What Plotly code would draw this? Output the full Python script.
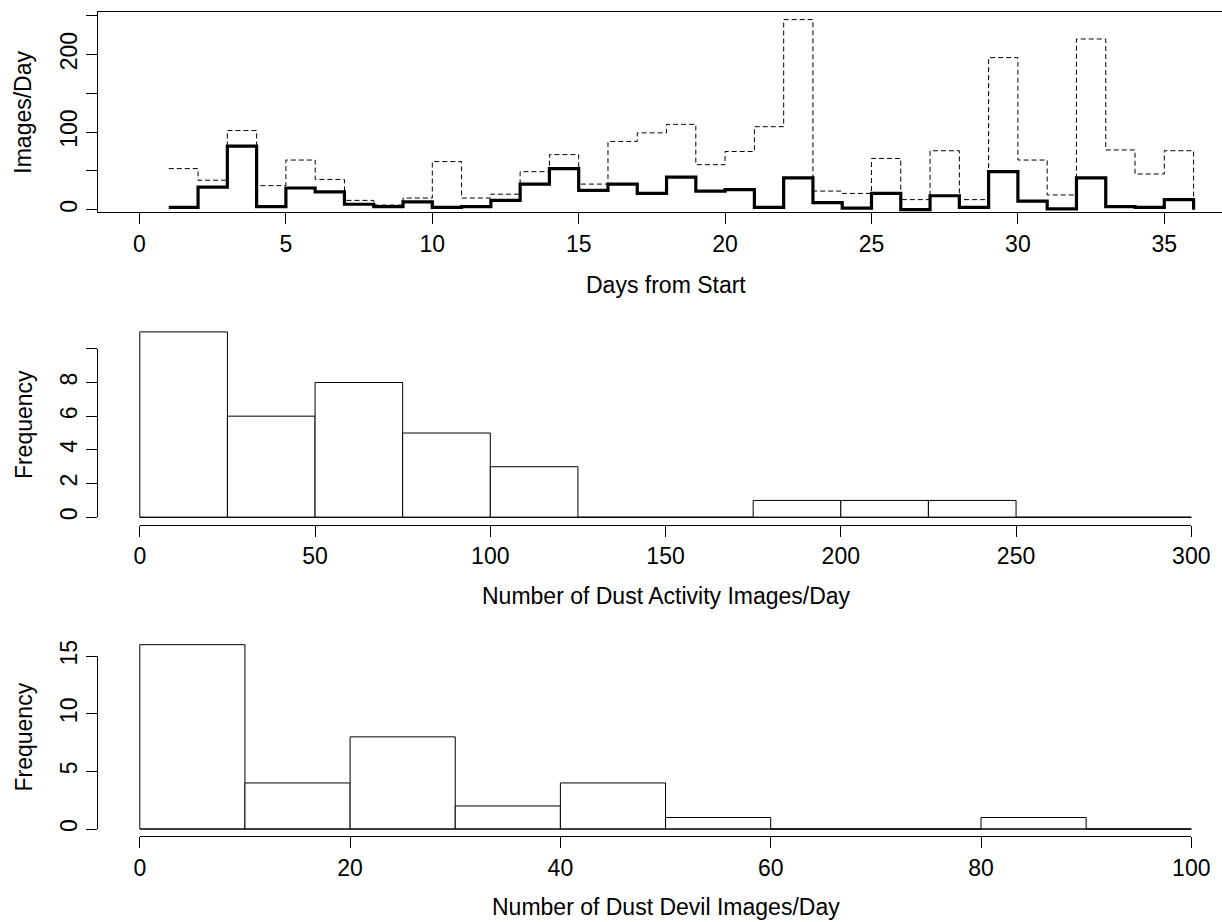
import plotly.graph_objects as go

# ---------------- data ----------------
days = list(range(1, 37))
dust_activity = [53, 38, 102, 31, 64, 39, 12, 6, 15, 62, 15, 20, 49, 71, 33, 88, 99, 110,
                 58, 75, 107, 245, 24, 21, 66, 13, 76, 13, 196, 64, 19, 220, 77, 46, 76, 13]
dust_devils = [3, 29, 82, 4, 28, 23, 7, 4, 10, 3, 4, 12, 33, 53, 25, 33, 21, 42,
               24, 26, 3, 41, 9, 2, 21, 0, 18, 3, 49, 11, 1, 41, 4, 3, 13, 0]

activity_breaks = list(range(0, 301, 25))
devil_breaks = list(range(0, 101, 10))

days_ticks = [0, 5, 10, 15, 20, 25, 30, 35]
images_ticks = [0, 50, 100, 150, 200, 250]
images_ticklabels = ["0", "", "100", "", "200", ""]
activity_ticks = [0, 50, 100, 150, 200, 250, 300]
freq1_ticks = [0, 2, 4, 6, 8, 10]
freq1_ticklabels = ["0", "2", "4", "6", "8", ""]
devil_ticks = [0, 20, 40, 60, 80, 100]
freq2_ticks = [0, 5, 10, 15]


def r_hist(values, breaks):
    """R-style histogram counts: right-closed bins, lowest value included."""
    counts = [0] * (len(breaks) - 1)
    for v in values:
        for i in range(len(breaks) - 1):
            lo, hi = breaks[i], breaks[i + 1]
            if lo < v <= hi or (i == 0 and v == lo):
                counts[i] += 1
                break
    return counts


act_counts = r_hist(dust_activity, activity_breaks)
dev_counts = r_hist(dust_devils, devil_breaks)

# ---------------- geometry (pixels) ----------------
W, H = 1222, 922
FONT = "Liberation Sans, Arial, sans-serif"
FS = 23


def fx(px):
    return px / W


def fy(py):
    return 1 - py / H


def sub(dom, rng, v0, v1):
    d0, d1 = dom
    r0, r1 = rng
    return [d0 + (v0 - r0) / (r1 - r0) * (d1 - d0),
            d0 + (v1 - r0) / (r1 - r0) * (d1 - d0)]


PL, PR = 97.7, 1222
x_dom = [fx(PL), fx(PR)]

# top panel
top_xr = [(PL - 139.5) / 29.28, (PR - 139.5) / 29.28]
top_yr = [-2.96, 254.4]
top_ydom = [fy(212), fy(12.3)]
# middle panel
mid_xr = [(PL - 139.8) / 3.505, (PR - 139.8) / 3.505]
mid_yr = [-0.44, 11.44]
mid_ydom = [fy(524.7), fy(324.5)]
# bottom panel
bot_xr = [(PL - 139.8) / 10.515, (PR - 139.8) / 10.515]
bot_yr = [-0.64, 16.64]
bot_ydom = [fy(836.4), fy(637.3)]

fig = go.Figure()

# top panel step lines
fig.add_trace(go.Scatter(x=days, y=dust_activity, mode="lines",
                         line=dict(shape="hv", color="black", width=1, dash="5px,3px"),
                         xaxis="x", yaxis="y", showlegend=False, hoverinfo="skip"))
fig.add_trace(go.Scatter(x=days, y=dust_devils, mode="lines",
                         line=dict(shape="hv", color="black", width=3.2),
                         xaxis="x", yaxis="y", showlegend=False, hoverinfo="skip"))


def add_hist(counts, breaks, xa, ya):
    centers = [(breaks[i] + breaks[i + 1]) / 2 for i in range(len(counts))]
    widths = [breaks[i + 1] - breaks[i] for i in range(len(counts))]
    fig.add_trace(go.Bar(x=centers, y=counts, width=widths,
                         marker=dict(color="white", line=dict(color="black", width=1)),
                         xaxis=xa, yaxis=ya, showlegend=False, hoverinfo="skip"))
    fig.add_trace(go.Scatter(x=[breaks[0], breaks[-1]], y=[0, 0], mode="lines",
                             line=dict(color="black", width=1),
                             xaxis=xa, yaxis=ya, showlegend=False, hoverinfo="skip"))


add_hist(act_counts, activity_breaks, "x2", "y2")
add_hist(dev_counts, devil_breaks, "x3", "y3")

# empty traces to register the tick-axis subplots
for xa, ya in [("x4", "y"), ("x", "y4"), ("x5", "y2"), ("x2", "y5"), ("x6", "y3"), ("x3", "y6")]:
    fig.add_trace(go.Scatter(x=[], y=[], xaxis=xa, yaxis=ya, showlegend=False, hoverinfo="skip"))

hidden = dict(showgrid=False, zeroline=False, showticklabels=False, ticks="",
              fixedrange=True, automargin=False)
tickstyle = dict(showgrid=False, zeroline=False, ticks="outside", ticklen=11, tickwidth=1,
                 tickcolor="black", linecolor="black", linewidth=1,
                 tickfont=dict(family=FONT, size=FS, color="black"), tickmode="array",
                 fixedrange=True, automargin=False)

fig.update_layout(
    width=W, height=H, autosize=False,
    margin=dict(l=0, r=0, t=0, b=0, pad=0, autoexpand=False),
    paper_bgcolor="white", plot_bgcolor="rgba(0,0,0,0)",
    showlegend=False,
    # data axes
    xaxis=dict(domain=x_dom, range=top_xr, anchor="y", showline=True, mirror=True,
               linecolor="black", linewidth=1, **hidden),
    yaxis=dict(domain=top_ydom, range=top_yr, anchor="x", showline=True,
               linecolor="black", linewidth=1, **hidden),
    xaxis2=dict(domain=x_dom, range=mid_xr, anchor="y2", showline=False, **hidden),
    yaxis2=dict(domain=mid_ydom, range=mid_yr, anchor="x2", showline=False, **hidden),
    xaxis3=dict(domain=x_dom, range=bot_xr, anchor="y3", showline=False, **hidden),
    yaxis3=dict(domain=bot_ydom, range=bot_yr, anchor="x3", showline=False, **hidden),
    # tick axes
    xaxis4=dict(domain=sub(x_dom, top_xr, days_ticks[0], days_ticks[-1]),
                range=[days_ticks[0], days_ticks[-1]], anchor="y", showline=False,
                tickvals=days_ticks, **tickstyle),
    yaxis4=dict(domain=sub(top_ydom, top_yr, images_ticks[0], images_ticks[-1]),
                range=[images_ticks[0], images_ticks[-1]], anchor="x", showline=False,
                tickvals=images_ticks, ticktext=images_ticklabels, tickangle=-90, **tickstyle),
    xaxis5=dict(domain=sub(x_dom, mid_xr, activity_ticks[0], activity_ticks[-1]),
                range=[activity_ticks[0], activity_ticks[-1]], anchor="y2", showline=True,
                tickvals=activity_ticks, **tickstyle),
    yaxis5=dict(domain=sub(mid_ydom, mid_yr, freq1_ticks[0], freq1_ticks[-1]),
                range=[freq1_ticks[0], freq1_ticks[-1]], anchor="x2", showline=True,
                tickvals=freq1_ticks, ticktext=freq1_ticklabels, tickangle=-90, **tickstyle),
    xaxis6=dict(domain=sub(x_dom, bot_xr, devil_ticks[0], devil_ticks[-1]),
                range=[devil_ticks[0], devil_ticks[-1]], anchor="y3", showline=True,
                tickvals=devil_ticks, **tickstyle),
    yaxis6=dict(domain=sub(bot_ydom, bot_yr, freq2_ticks[0], freq2_ticks[-1]),
                range=[freq2_ticks[0], freq2_ticks[-1]], anchor="x3", showline=True,
                tickvals=freq2_ticks, tickangle=-90, **tickstyle),
)

titles = [
    ("Days from Start", 666, 284.7, 0),
    ("Number of Dust Activity Images/Day", 666, 596.4, 0),
    ("Number of Dust Devil Images/Day", 666, 907, 0),
    ("Images/Day", 23.5, 112.2, -90),
    ("Frequency", 23.5, 424.6, -90),
    ("Frequency", 23.5, 737, -90),
]
for text, px, py, ang in titles:
    fig.add_annotation(text=text, x=fx(px), y=fy(py), xref="paper", yref="paper",
                       xanchor="center", yanchor="middle", showarrow=False, textangle=ang,
                       font=dict(family=FONT, size=FS, color="black"))

fig.write_html("out.html",
               config={"displayModeBar": False, "staticPlot": True},
               post_script="document.body.style.margin='0';document.body.style.overflow='hidden';")
